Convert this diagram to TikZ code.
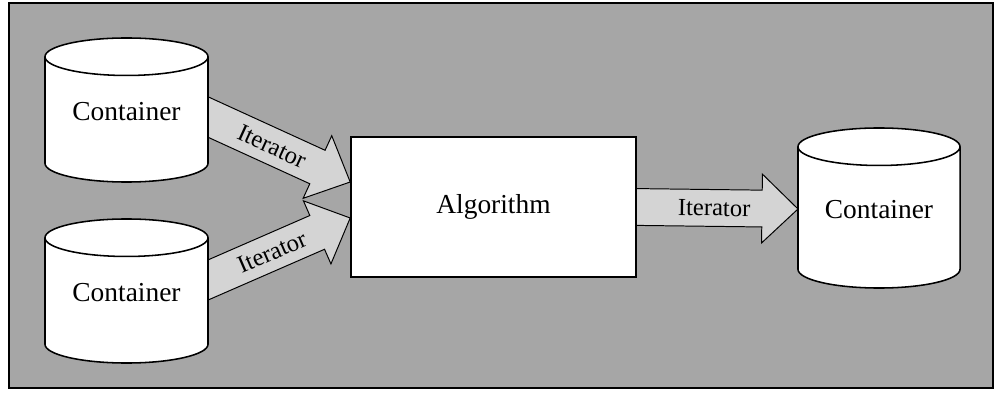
\documentclass[tikz,border=0pt]{standalone}
\usepackage{fontspec}
\setmainfont{Liberation Serif}
\usetikzlibrary{shapes.geometric, calc, positioning}
\pgfdeclarelayer{bg}
\pgfdeclarelayer{arrows}
\pgfsetlayers{bg,arrows,main}
\tikzset{
  frame/.style={draw=black, line width=1.4pt, fill=black!35},
  store/.style={
    cylinder, shape border rotate=90, draw=black, line width=1.1pt,
    fill=white, aspect=4, anchor=shape center,
    minimum width=4.075cm, minimum height=3.6cm
  },
  storename/.style={font=\fontsize{19.5}{23}\selectfont},
  algo/.style={
    rectangle, draw=black, line width=1.1pt, fill=white,
    minimum width=7.125cm, minimum height=3.5cm,
    font=\fontsize{19.5}{23}\selectfont
  },
  iterarrow/.style={draw=black, line width=0.7pt, fill=black!17, line join=miter},
  iterlabel/.style={sloped, font=\fontsize{17.5}{20}\selectfont}
}
% fat arrow: [label pos]{start}{tip}{label name}{label}
\newcommand{\fatarrow}[5][0.45]{%
  \coordinate (fs) at ($(#2)!-0.4cm!(#3)$);
  \coordinate (fh) at ($(#3)!0.9cm!(#2)$);
  \begin{pgfonlayer}{arrows}
  \draw[iterarrow] ($(fs)!0.46cm!90:(#3)$) -- ($(fh)!0.46cm!90:(#3)$)
    -- ($(fh)!0.86cm!90:(#3)$) -- (#3) -- ($(fh)!0.86cm!-90:(#3)$)
    -- ($(fh)!0.46cm!-90:(#3)$) -- ($(fs)!0.46cm!-90:(#3)$) -- cycle;
  \end{pgfonlayer}
  \path (#2) -- (#3) node[iterlabel, pos=#1] (#4) {#5};
}
\begin{document}
\begin{tikzpicture}[x=0.025cm, y=-0.025cm]
\useasboundingbox (0,0) rectangle (1000,400);

% frame
\begin{pgfonlayer}{bg}
\draw[frame] (9,3) rectangle (993,388);
\end{pgfonlayer}

% containers and algorithm
\node[store] (in1) at (126.5,110) {};
\node[store] (in2) at (126.5,291) {};
\node[algo] (alg) at (493.5,207) {Algorithm};
\node[store, minimum height=4cm, minimum width=4.05cm] (out) at (879,208) {};

\node[storename] (in1l) at ($(in1.shape center)+(0,2)$) {Container};
\node[storename] (in2l) at ($(in2.shape center)+(0,2)$) {Container};
\node[storename] (outl) at ($(out.shape center)+(0,2)$) {Container};

% arrow ends
\coordinate (a1s) at ($(in1.shape center)+(81.5,7)$);
\coordinate (a1t) at ($(alg.west)+(0,-25)$);
\coordinate (a2s) at ($(in2.shape center)+(81.5,-11)$);
\coordinate (a2t) at ($(alg.west)+(0,11)$);
\coordinate (a3s) at (alg.east);
\coordinate (a3t) at ($(out.shape center)+(-81,1)$);

% iterators
\fatarrow{a1s}{a1t}{it1}{Iterator}
\fatarrow{a2s}{a2t}{it2}{Iterator}
\fatarrow[0.48]{a3s}{a3t}{it3}{Iterator}

\end{tikzpicture}
\end{document}
